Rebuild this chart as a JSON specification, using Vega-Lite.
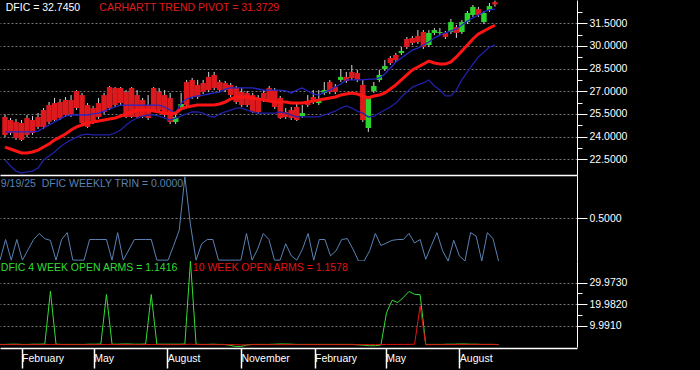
{
  "$schema": "https://vega.github.io/schema/vega-lite/v6.json",
  "background": "black",
  "padding": 0,
  "spacing": 0,
  "bounds": "full",
  "config": {
    "view": {"stroke": null},
    "font": "Liberation Sans",
    "axis": {"labelFont": "Liberation Sans", "labelColor": "white", "labelFontSize": 10.5, "domainColor": "white", "tickColor": "white", "labelOverlap": false, "labelFlush": false, "labelBound": false}
  },
  "resolve": {"scale": {"x": "independent", "y": "independent"}},
  "datasets": {
    "weekly": [
      {"d":"2024-01-05","o":25.30,"h":25.43,"l":23.97,"c":24.11,"p":23.31,"u":24.31,"w":22.45,"t":0.01,"g":1.2,"r":1.1},
      {"d":"2024-01-12","o":25.10,"h":25.23,"l":24.11,"c":24.24,"p":23.18,"u":24.31,"w":22.06,"t":0.25,"g":1.2,"r":1.1},
      {"d":"2024-01-19","o":24.97,"h":25.17,"l":23.78,"c":23.91,"p":23.05,"u":24.31,"w":21.72,"t":0.01,"g":1.3,"r":1.1},
      {"d":"2024-01-26","o":24.90,"h":25.10,"l":23.71,"c":23.78,"p":22.92,"u":24.31,"w":21.59,"t":0.25,"g":1.3,"r":1.1},
      {"d":"2024-02-02","o":25.23,"h":25.43,"l":23.97,"c":24.11,"p":22.92,"u":24.31,"w":21.66,"t":0.01,"g":1.2,"r":1.1},
      {"d":"2024-02-09","o":25.10,"h":25.36,"l":24.11,"c":24.24,"p":22.98,"u":24.31,"w":21.72,"t":0.13,"g":1.2,"r":1.1},
      {"d":"2024-02-16","o":25.30,"h":25.56,"l":24.50,"c":24.64,"p":23.11,"u":24.37,"w":21.92,"t":0.25,"g":1.3,"r":1.1},
      {"d":"2024-02-23","o":25.76,"h":25.89,"l":24.50,"c":24.64,"p":23.31,"u":24.57,"w":22.45,"t":0.32,"g":1.3,"r":1.1},
      {"d":"2024-03-01","o":26.09,"h":26.29,"l":24.83,"c":24.97,"p":23.51,"u":24.77,"w":22.72,"t":0.26,"g":1.4,"r":1.1},
      {"d":"2024-03-08","o":26.22,"h":26.56,"l":25.03,"c":25.10,"p":23.78,"u":24.97,"w":22.98,"t":0.24,"g":25.9,"r":1.2},
      {"d":"2024-03-15","o":26.29,"h":26.49,"l":25.10,"c":25.23,"p":23.97,"u":25.17,"w":23.31,"t":0.01,"g":1.3,"r":1.2},
      {"d":"2024-03-22","o":26.42,"h":26.62,"l":25.30,"c":25.43,"p":24.17,"u":25.36,"w":23.58,"t":0.25,"g":1.2,"r":1.1},
      {"d":"2024-03-29","o":26.42,"h":26.75,"l":25.30,"c":25.43,"p":24.44,"u":25.43,"w":23.78,"t":0.33,"g":1.2,"r":1.1},
      {"d":"2024-04-05","o":27.02,"h":27.08,"l":25.76,"c":25.89,"p":24.64,"u":25.43,"w":23.97,"t":0.01,"g":1.2,"r":1.1},
      {"d":"2024-04-12","o":26.75,"h":26.89,"l":24.77,"c":24.90,"p":24.77,"u":25.43,"w":24.11,"t":0.01,"g":1.2,"r":1.1},
      {"d":"2024-04-19","o":26.09,"h":26.22,"l":24.57,"c":24.64,"p":24.90,"u":25.43,"w":24.17,"t":0.01,"g":1.2,"r":1.1},
      {"d":"2024-04-26","o":25.89,"h":26.03,"l":24.83,"c":24.97,"p":24.97,"u":25.50,"w":24.11,"t":0.25,"g":1.3,"r":1.1},
      {"d":"2024-05-03","o":26.22,"h":26.56,"l":25.17,"c":25.30,"p":25.03,"u":25.56,"w":24.11,"t":0.25,"g":1.3,"r":1.1},
      {"d":"2024-05-10","o":26.75,"h":26.89,"l":25.50,"c":25.63,"p":25.10,"u":25.69,"w":24.11,"t":0.25,"g":1.4,"r":1.1},
      {"d":"2024-05-17","o":27.28,"h":27.35,"l":25.76,"c":25.89,"p":25.17,"u":25.83,"w":24.11,"t":0.25,"g":24.4,"r":1.2},
      {"d":"2024-05-24","o":27.22,"h":27.28,"l":25.96,"c":26.09,"p":25.23,"u":25.96,"w":24.24,"t":0.01,"g":1.3,"r":1.2},
      {"d":"2024-05-31","o":27.22,"h":27.28,"l":26.09,"c":26.22,"p":25.36,"u":26.09,"w":24.44,"t":0.33,"g":1.3,"r":1.1},
      {"d":"2024-06-07","o":26.95,"h":27.08,"l":25.23,"c":25.30,"p":25.50,"u":26.09,"w":24.77,"t":0.01,"g":1.4,"r":1.1},
      {"d":"2024-06-14","o":27.22,"h":27.28,"l":25.23,"c":25.30,"p":25.63,"u":26.09,"w":25.03,"t":0.13,"g":1.4,"r":1.1},
      {"d":"2024-06-21","o":26.75,"h":27.08,"l":25.23,"c":25.30,"p":25.76,"u":26.09,"w":25.23,"t":0.25,"g":1.3,"r":1.1},
      {"d":"2024-06-28","o":26.42,"h":26.56,"l":25.23,"c":25.30,"p":25.76,"u":26.09,"w":25.36,"t":0.25,"g":1.3,"r":1.1},
      {"d":"2024-07-05","o":26.09,"h":26.75,"l":25.10,"c":25.23,"p":25.76,"u":26.09,"w":25.43,"t":0.25,"g":1.4,"r":1.1},
      {"d":"2024-07-12","o":27.22,"h":27.28,"l":25.63,"c":25.76,"p":25.69,"u":26.09,"w":25.43,"t":0.25,"g":24.4,"r":1.2},
      {"d":"2024-07-19","o":26.95,"h":27.22,"l":25.63,"c":25.76,"p":25.63,"u":26.09,"w":25.36,"t":0.01,"g":1.3,"r":1.2},
      {"d":"2024-07-26","o":26.75,"h":27.08,"l":25.30,"c":25.43,"p":25.56,"u":25.96,"w":25.23,"t":0.01,"g":1.3,"r":1.1},
      {"d":"2024-08-02","o":26.56,"h":26.89,"l":24.83,"c":24.97,"p":25.50,"u":25.76,"w":25.10,"t":0.01,"g":1.3,"r":1.1},
      {"d":"2024-08-09","o":24.97,"h":25.63,"l":24.83,"c":25.30,"p":25.56,"u":25.56,"w":25.23,"t":0.18,"g":1.3,"r":1.1},
      {"d":"2024-08-16","o":25.96,"h":26.89,"l":25.89,"c":26.16,"p":25.83,"u":26.22,"w":25.36,"t":0.36,"g":1.3,"r":1.1},
      {"d":"2024-08-23","o":27.61,"h":27.75,"l":25.96,"c":26.09,"p":25.96,"u":26.49,"w":25.50,"t":0.98,"g":1.4,"r":1.2},
      {"d":"2024-08-30","o":27.75,"h":27.88,"l":26.49,"c":26.62,"p":26.03,"u":26.62,"w":25.63,"t":0.42,"g":39.96,"r":1.3},
      {"d":"2024-09-06","o":27.42,"h":27.75,"l":26.49,"c":26.62,"p":26.09,"u":26.69,"w":25.63,"t":0.01,"g":1.3,"r":1.2},
      {"d":"2024-09-13","o":27.55,"h":27.75,"l":26.82,"c":26.95,"p":26.09,"u":26.75,"w":25.56,"t":0.20,"g":1.2,"r":1.1},
      {"d":"2024-09-20","o":27.95,"h":28.28,"l":26.95,"c":27.08,"p":26.09,"u":26.82,"w":25.36,"t":0.25,"g":1.2,"r":1.1},
      {"d":"2024-09-27","o":28.08,"h":28.28,"l":27.08,"c":27.22,"p":26.09,"u":26.89,"w":25.30,"t":0.25,"g":1.3,"r":1.1},
      {"d":"2024-10-04","o":27.61,"h":27.75,"l":26.95,"c":27.08,"p":26.16,"u":26.95,"w":25.50,"t":0.01,"g":1.2,"r":1.1},
      {"d":"2024-10-11","o":27.55,"h":27.68,"l":26.95,"c":27.08,"p":26.29,"u":27.15,"w":25.63,"t":0.01,"g":1.2,"r":1.1},
      {"d":"2024-10-18","o":27.42,"h":27.55,"l":26.62,"c":26.75,"p":26.49,"u":27.22,"w":25.76,"t":0.01,"g":0.8,"r":1.1},
      {"d":"2024-10-25","o":27.22,"h":27.35,"l":26.16,"c":26.29,"p":26.62,"u":27.22,"w":25.89,"t":0.01,"g":0.3,"r":1.1},
      {"d":"2024-11-01","o":26.95,"h":27.22,"l":25.96,"c":26.09,"p":26.62,"u":27.22,"w":25.89,"t":0.01,"g":0.2,"r":1.0},
      {"d":"2024-11-08","o":26.89,"h":27.02,"l":25.96,"c":26.09,"p":26.62,"u":27.22,"w":25.76,"t":0.32,"g":0.9,"r":1.0},
      {"d":"2024-11-15","o":26.75,"h":26.89,"l":25.56,"c":25.63,"p":26.56,"u":27.22,"w":25.63,"t":0.01,"g":1.2,"r":1.1},
      {"d":"2024-11-22","o":26.56,"h":26.75,"l":25.50,"c":25.63,"p":26.49,"u":27.15,"w":25.56,"t":0.14,"g":1.2,"r":1.1},
      {"d":"2024-11-29","o":26.89,"h":27.08,"l":26.29,"c":26.42,"p":26.42,"u":27.08,"w":25.56,"t":0.32,"g":1.2,"r":1.1},
      {"d":"2024-12-06","o":27.22,"h":27.35,"l":26.29,"c":26.42,"p":26.36,"u":27.08,"w":25.56,"t":0.25,"g":1.2,"r":1.1},
      {"d":"2024-12-13","o":27.08,"h":27.22,"l":25.83,"c":25.96,"p":26.29,"u":27.08,"w":25.56,"t":0.01,"g":1.3,"r":1.1},
      {"d":"2024-12-20","o":26.56,"h":26.69,"l":25.17,"c":25.23,"p":26.29,"u":27.08,"w":25.63,"t":0.01,"g":1.4,"r":1.1},
      {"d":"2024-12-27","o":25.63,"h":25.89,"l":25.17,"c":25.30,"p":26.29,"u":27.02,"w":25.56,"t":0.20,"g":1.4,"r":1.1},
      {"d":"2025-01-03","o":25.76,"h":25.96,"l":25.10,"c":25.23,"p":26.22,"u":26.89,"w":25.43,"t":0.06,"g":1.3,"r":1.1},
      {"d":"2025-01-10","o":25.96,"h":26.16,"l":25.03,"c":25.10,"p":26.22,"u":27.08,"w":25.30,"t":0.01,"g":1.2,"r":1.1},
      {"d":"2025-01-17","o":25.36,"h":26.09,"l":25.23,"c":25.56,"p":26.22,"u":27.22,"w":25.30,"t":0.14,"g":1.2,"r":1.1},
      {"d":"2025-01-24","o":26.29,"h":26.75,"l":25.96,"c":26.09,"p":26.29,"u":27.02,"w":25.30,"t":0.32,"g":1.2,"r":1.1},
      {"d":"2025-01-31","o":26.62,"h":27.08,"l":26.16,"c":26.29,"p":26.36,"u":26.82,"w":25.30,"t":0.01,"g":1.2,"r":1.1},
      {"d":"2025-02-07","o":26.22,"h":27.08,"l":26.09,"c":26.49,"p":26.42,"u":26.75,"w":25.30,"t":0.25,"g":1.2,"r":1.1},
      {"d":"2025-02-14","o":26.89,"h":27.61,"l":26.75,"c":27.08,"p":26.49,"u":26.95,"w":25.43,"t":0.25,"g":1.2,"r":1.1},
      {"d":"2025-02-21","o":27.61,"h":27.75,"l":26.82,"c":26.95,"p":26.56,"u":27.08,"w":25.56,"t":0.06,"g":1.2,"r":1.1},
      {"d":"2025-02-28","o":27.28,"h":27.48,"l":26.82,"c":26.95,"p":26.62,"u":27.28,"w":25.69,"t":0.12,"g":1.2,"r":1.1},
      {"d":"2025-03-07","o":27.75,"h":28.47,"l":27.61,"c":27.95,"p":26.75,"u":27.48,"w":25.89,"t":0.25,"g":1.2,"r":1.1},
      {"d":"2025-03-14","o":27.95,"h":28.28,"l":27.55,"c":27.68,"p":26.82,"u":27.75,"w":26.03,"t":0.26,"g":1.2,"r":1.1},
      {"d":"2025-03-21","o":28.28,"h":28.74,"l":27.75,"c":27.88,"p":26.89,"u":27.75,"w":25.89,"t":0.14,"g":1.2,"r":1.1},
      {"d":"2025-03-28","o":28.21,"h":28.41,"l":27.61,"c":27.75,"p":26.82,"u":27.75,"w":25.69,"t":0.00,"g":1.0,"r":1.1},
      {"d":"2025-04-04","o":27.42,"h":27.75,"l":24.97,"c":25.10,"p":26.69,"u":27.75,"w":25.56,"t":0.00,"g":0.8,"r":1.1},
      {"d":"2025-04-11","o":24.57,"h":26.69,"l":24.31,"c":26.56,"p":26.56,"u":27.81,"w":25.30,"t":0.12,"g":0.6,"r":1.1},
      {"d":"2025-04-18","o":27.02,"h":27.61,"l":26.89,"c":27.35,"p":26.69,"u":27.81,"w":25.36,"t":0.32,"g":0.6,"r":1.1},
      {"d":"2025-04-25","o":27.75,"h":28.41,"l":27.61,"c":28.08,"p":26.75,"u":27.88,"w":25.56,"t":0.18,"g":0.9,"r":1.1},
      {"d":"2025-05-02","o":28.47,"h":29.07,"l":28.34,"c":28.67,"p":26.89,"u":28.14,"w":25.76,"t":0.21,"g":16.0,"r":1.2},
      {"d":"2025-05-09","o":29.20,"h":29.34,"l":28.74,"c":28.87,"p":27.15,"u":28.54,"w":25.96,"t":0.24,"g":21.7,"r":1.2},
      {"d":"2025-05-16","o":29.40,"h":29.53,"l":28.94,"c":29.07,"p":27.42,"u":28.94,"w":26.22,"t":0.25,"g":20.7,"r":1.2},
      {"d":"2025-05-23","o":29.53,"h":29.93,"l":29.40,"c":29.67,"p":27.75,"u":29.20,"w":26.62,"t":0.25,"g":23.0,"r":1.2},
      {"d":"2025-05-30","o":30.46,"h":30.59,"l":29.80,"c":29.93,"p":28.08,"u":29.47,"w":26.95,"t":0.32,"g":25.8,"r":1.2},
      {"d":"2025-06-06","o":30.53,"h":30.66,"l":30.06,"c":30.19,"p":28.41,"u":29.73,"w":27.28,"t":0.21,"g":24.5,"r":1.3},
      {"d":"2025-06-13","o":30.66,"h":31.05,"l":30.13,"c":30.26,"p":28.61,"u":29.86,"w":27.42,"t":0.25,"g":24.3,"r":19.0},
      {"d":"2025-06-20","o":30.92,"h":31.05,"l":29.80,"c":29.93,"p":28.80,"u":30.06,"w":27.55,"t":0.02,"g":1.2,"r":1.1},
      {"d":"2025-06-27","o":30.06,"h":31.05,"l":29.93,"c":30.86,"p":29.00,"u":30.26,"w":27.75,"t":0.18,"g":1.2,"r":1.1},
      {"d":"2025-07-04","o":30.86,"h":31.19,"l":30.72,"c":31.05,"p":28.87,"u":30.53,"w":27.35,"t":0.33,"g":1.2,"r":1.1},
      {"d":"2025-07-11","o":30.86,"h":31.19,"l":30.72,"c":30.92,"p":28.80,"u":30.72,"w":27.08,"t":0.12,"g":1.2,"r":1.1},
      {"d":"2025-07-18","o":30.86,"h":30.99,"l":30.46,"c":30.59,"p":28.80,"u":30.86,"w":26.69,"t":0.00,"g":1.3,"r":1.1},
      {"d":"2025-07-25","o":30.92,"h":31.78,"l":30.79,"c":31.58,"p":28.94,"u":30.99,"w":26.69,"t":0.24,"g":1.3,"r":1.1},
      {"d":"2025-08-01","o":31.25,"h":31.39,"l":30.53,"c":30.86,"p":29.27,"u":31.12,"w":27.08,"t":0.06,"g":1.4,"r":1.2},
      {"d":"2025-08-08","o":30.92,"h":31.72,"l":30.79,"c":31.58,"p":29.67,"u":31.39,"w":27.75,"t":0.00,"g":1.4,"r":1.2},
      {"d":"2025-08-15","o":31.58,"h":32.31,"l":31.45,"c":32.18,"p":30.06,"u":31.65,"w":28.28,"t":0.33,"g":1.3,"r":1.2},
      {"d":"2025-08-22","o":32.05,"h":32.71,"l":31.92,"c":32.58,"p":30.46,"u":31.85,"w":28.80,"t":0.29,"g":1.3,"r":1.2},
      {"d":"2025-08-29","o":32.44,"h":32.58,"l":31.92,"c":32.05,"p":30.79,"u":32.05,"w":29.27,"t":0.00,"g":1.2,"r":1.2},
      {"d":"2025-09-05","o":31.58,"h":32.31,"l":31.45,"c":32.18,"p":30.99,"u":32.25,"w":29.60,"t":0.33,"g":1.2,"r":1.2},
      {"d":"2025-09-12","o":32.38,"h":32.84,"l":32.25,"c":32.64,"p":31.19,"u":32.38,"w":29.93,"t":0.26,"g":1.2,"r":1.2},
      {"d":"2025-09-19","o":32.90,"h":33.00,"l":32.60,"c":32.745,"p":31.37,"u":32.44,"w":30.06,"t":0.00,"g":1.14,"r":1.16}
    ]
  },
  "vconcat": [
    {
      "width": 577,
      "height": 175,
      "layer": [
        {
          "data": {"name": "weekly"},
          "mark": {"type": "rule", "color": "#d8d8d8", "strokeWidth": 1, "clip": true},
          "encoding": {
            "x": {"field": "d", "type": "temporal", "title": null,
                  "scale": {"domain": [{"year": 2024, "month": 1, "date": 5}, {"year": 2025, "month": 12, "date": 26}]},
                  "axis": {"labels": false, "ticks": false, "grid": false, "domain": true, "domainColor": "white", "domainWidth": 1.5, "minExtent": 0, "maxExtent": 0, "title": null}},
            "y": {"field": "l", "type": "quantitative", "title": null,
                  "scale": {"domain": [21.46, 33.04], "nice": false, "zero": false},
                  "axis": {
                    "orient": "right",
                    "values": [22.5, 23.25, 24, 24.75, 25.5, 26.25, 27, 27.75, 28.5, 29.25, 30, 30.75, 31.5, 32.25],
                    "tickCount": 100,
                    "labelExpr": "abs(datum.value/1.5 - round(datum.value/1.5)) < 0.001 ? format(datum.value, '.4f') : ''",
                    "tickSize": {"condition": {"test": "abs(datum.value/1.5 - round(datum.value/1.5)) < 0.001", "value": 10}, "value": 5},
                    "labelPadding": 2,
                    "grid": true,
                    "gridDash": [2, 2],
                    "gridColor": "#777777",
                    "gridOpacity": {"condition": {"test": "abs(datum.value/1.5 - round(datum.value/1.5)) < 0.001", "value": 1}, "value": 0},
                    "domainColor": "white",
                    "minExtent": 123,
                    "maxExtent": 123,
                    "title": null
                  }},
            "y2": {"field": "h"}
          }
        },
        {
          "data": {"name": "weekly"},
          "mark": {"type": "bar", "width": 5.5, "clip": true},
          "encoding": {
            "x": {"field": "d", "type": "temporal"},
            "y": {"field": "o", "type": "quantitative", "title": null},
            "y2": {"field": "c"},
            "color": {"condition": {"test": "datum.c >= datum.o", "value": "#2ad42a"}, "value": "#dc1a1e"}
          }
        },
        {
          "data": {"name": "weekly"},
          "mark": {"type": "line", "color": "#2020a8", "strokeWidth": 1.3, "clip": true},
          "encoding": {
            "x": {"field": "d", "type": "temporal"},
            "y": {"field": "w", "type": "quantitative", "title": null}
          }
        },
        {
          "data": {"name": "weekly"},
          "mark": {"type": "line", "color": "#2626c8", "strokeWidth": 1.3, "clip": true},
          "encoding": {
            "x": {"field": "d", "type": "temporal"},
            "y": {"field": "u", "type": "quantitative", "title": null}
          }
        },
        {
          "data": {"name": "weekly"},
          "mark": {"type": "line", "color": "#ff1414", "strokeWidth": 3, "clip": true},
          "encoding": {
            "x": {"field": "d", "type": "temporal"},
            "y": {"field": "p", "type": "quantitative", "title": null}
          }
        },
        {
          "data": {"values": [{"txt": "DFIC = 32.7450"}]},
          "mark": {"type": "text", "align": "left", "baseline": "middle", "fontSize": 10.5, "color": "white"},
          "encoding": {
            "x": {"datum": {"year": 2024, "month": 1, "date": 6}, "type": "temporal"},
            "y": {"datum": 32.52, "type": "quantitative"},
            "text": {"field": "txt"}
          }
        },
        {
          "data": {"values": [{"txt": "CARHARTT TREND PIVOT = 31.3729"}]},
          "mark": {"type": "text", "align": "left", "baseline": "middle", "fontSize": 10.5, "color": "#e01c1c"},
          "encoding": {
            "x": {"datum": {"year": 2024, "month": 5, "date": 4}, "type": "temporal"},
            "y": {"datum": 32.52, "type": "quantitative"},
            "text": {"field": "txt"}
          }
        }
      ]
    },
    {
      "width": 577,
      "height": 86,
      "layer": [
        {
          "data": {"name": "weekly"},
          "mark": {"type": "line", "color": "#5a82b2", "strokeWidth": 1, "clip": true},
          "encoding": {
            "x": {"field": "d", "type": "temporal", "title": null,
                  "scale": {"domain": [{"year": 2024, "month": 1, "date": 5}, {"year": 2025, "month": 12, "date": 26}]},
                  "axis": null},
            "y": {"field": "t", "type": "quantitative", "title": null,
                  "scale": {"domain": [0, 1], "nice": false, "zero": false},
                  "axis": {
                    "orient": "right",
                    "values": [0.5],
                    "tickCount": 100,
                    "format": ".4f",
                    "tickSize": 10,
                    "labelPadding": 2,
                    "grid": true,
                    "gridDash": [2, 2],
                    "gridColor": "#777777",
                    "domainColor": "white",
                    "minExtent": 123,
                    "maxExtent": 123,
                    "title": null
                  }}
          }
        },
        {
          "data": {"values": [{"txt": "9/19/25\u00a0\u00a0DFIC WEEKLY TRIN = 0.0000"}]},
          "mark": {"type": "text", "align": "left", "baseline": "middle", "fontSize": 10.5, "color": "#5a82b2"},
          "encoding": {
            "x": {"datum": {"year": 2024, "month": 1, "date": 6}, "type": "temporal"},
            "y": {"datum": 0.9, "type": "quantitative"},
            "text": {"field": "txt"}
          }
        }
      ]
    },
    {
      "width": 577,
      "height": 86,
      "layer": [
        {
          "data": {"name": "weekly"},
          "mark": {"type": "line", "color": "#33dd33", "strokeWidth": 1, "clip": true},
          "encoding": {
            "x": {"field": "d", "type": "temporal", "title": null,
                  "scale": {"domain": [{"year": 2024, "month": 1, "date": 5}, {"year": 2025, "month": 12, "date": 26}]},
                  "axis": {
                    "values": [
                      {"year": 2024, "month": 2, "date": 1},
                      {"year": 2024, "month": 5, "date": 1},
                      {"year": 2024, "month": 8, "date": 1},
                      {"year": 2024, "month": 11, "date": 1},
                      {"year": 2025, "month": 2, "date": 1},
                      {"year": 2025, "month": 5, "date": 1},
                      {"year": 2025, "month": 8, "date": 1}
                    ],
                    "tickCount": 100,
                    "format": "%B",
                    "tickSize": 20,
                    "tickWidth": 1.5,
                    "labelAlign": "left",
                    "labelPadding": -15,
                    "labelDx": 3,
                    "labelFontSize": 10.5,
                    "grid": false,
                    "domainColor": "white",
                    "domainWidth": 1.5,
                    "offset": 1,
                    "minExtent": 22,
                    "maxExtent": 22,
                    "title": null
                  }},
            "y": {"field": "g", "type": "quantitative", "title": null,
                  "scale": {"domain": [0, 39.964], "nice": false, "zero": false},
                  "axis": {
                    "orient": "right",
                    "values": [9.991, 14.9865, 19.982, 24.9775, 29.973],
                    "tickCount": 100,
                    "labelExpr": "abs(datum.value/9.991 - round(datum.value/9.991)) < 0.001 ? format(datum.value, '.4f') : ''",
                    "tickSize": {"condition": {"test": "abs(datum.value/9.991 - round(datum.value/9.991)) < 0.001", "value": 10}, "value": 5},
                    "labelPadding": 2,
                    "grid": true,
                    "gridDash": [2, 2],
                    "gridColor": "#777777",
                    "gridOpacity": {"condition": {"test": "abs(datum.value/9.991 - round(datum.value/9.991)) < 0.001", "value": 1}, "value": 0},
                    "domainColor": "white",
                    "minExtent": 123,
                    "maxExtent": 123,
                    "title": null
                  }}
          }
        },
        {
          "data": {"name": "weekly"},
          "mark": {"type": "line", "color": "#e01414", "strokeWidth": 1, "clip": true},
          "encoding": {
            "x": {"field": "d", "type": "temporal"},
            "y": {"field": "r", "type": "quantitative", "title": null}
          }
        },
        {
          "data": {"values": [{"txt": "DFIC 4 WEEK OPEN ARMS = 1.1416"}]},
          "mark": {"type": "text", "align": "left", "baseline": "middle", "fontSize": 10.5, "color": "#33dd33"},
          "encoding": {
            "x": {"datum": {"year": 2024, "month": 1, "date": 6}, "type": "temporal"},
            "y": {"datum": 36.7, "type": "quantitative"},
            "text": {"field": "txt"}
          }
        },
        {
          "data": {"values": [{"txt": "10 WEEK OPEN ARMS = 1.1578"}]},
          "mark": {"type": "text", "align": "left", "baseline": "middle", "fontSize": 10.5, "color": "#e01414"},
          "encoding": {
            "x": {"datum": {"year": 2024, "month": 9, "date": 2}, "type": "temporal"},
            "y": {"datum": 36.7, "type": "quantitative"},
            "text": {"field": "txt"}
          }
        }
      ]
    }
  ]
}
